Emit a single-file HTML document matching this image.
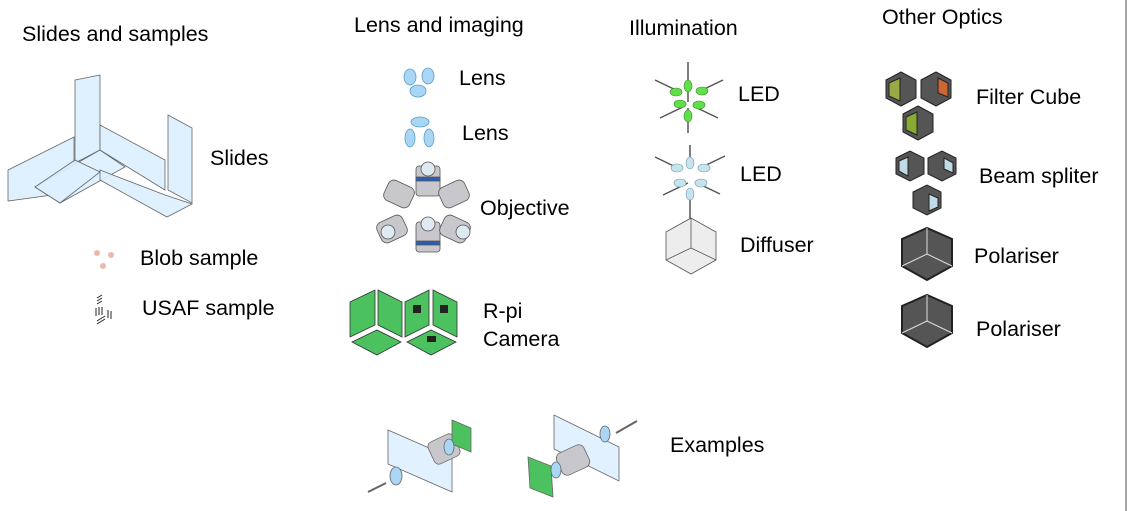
<!DOCTYPE html>
<html><head><meta charset="utf-8"><style>
html,body{margin:0;padding:0;background:#fff}
svg{display:block}
text{font-family:"Liberation Sans","DejaVu Sans",sans-serif;font-size:21.5px;fill:#000}
</style></head><body>
<svg width="1128" height="511" viewBox="0 0 1128 511" xmlns="http://www.w3.org/2000/svg">
<line x1="1126" y1="0" x2="1126" y2="511" stroke="#888" stroke-width="1.5"/>
<text x="22" y="41">Slides and samples</text>
<text x="354" y="32">Lens and imaging</text>
<text x="629" y="35">Illumination</text>
<text x="882" y="24">Other Optics</text>
<text x="210" y="165">Slides</text>
<text x="140" y="265">Blob sample</text>
<text x="142" y="315">USAF sample</text>
<text x="459" y="85">Lens</text>
<text x="462" y="140">Lens</text>
<text x="480" y="215">Objective</text>
<text x="483" y="318">R-pi</text>
<text x="483" y="346">Camera</text>
<text x="738" y="101">LED</text>
<text x="740" y="181">LED</text>
<text x="740" y="252">Diffuser</text>
<text x="976" y="104">Filter Cube</text>
<text x="979" y="183">Beam spliter</text>
<text x="974" y="263">Polariser</text>
<text x="976" y="336">Polariser</text>
<text x="670" y="452">Examples</text>

<!-- slides -->
<g fill="#dcefff" stroke="#666" stroke-width="0.8" fill-opacity="0.9">
<polygon points="8,170 74,137 74,192 8,201"/>
<polygon points="75,80 100,75 100,150 75,163"/>
<polygon points="35,187 100,150 125,167 60,203"/>
<polygon points="100,150 100,125 165,160 165,190"/>
<polygon points="100,170 165,195 192,204 167,217 100,180"/>
<polygon points="168,115 192,128 192,203 168,190"/>
<polygon points="35,187 60,203 100,172 75,160"/>
</g>
<!-- blob -->
<g fill="#e29c88" opacity="0.7"><circle cx="97" cy="253" r="3"/><circle cx="111" cy="255" r="3"/><circle cx="103" cy="266" r="3"/></g>
<!-- usaf -->
<g stroke="#222" stroke-width="1"><path d="M97,298 l5,-3 M97,301 l5,-3 M97,304 l5,-3 M96,308 l0,8 M99,307 l0,8 M102,307 l0,8 M108,310 l0,8 M111,311 l0,8 M105,316 l-8,5 M105,319 l-8,5"/></g>

<!-- lenses -->
<g fill="#a9d6f5" stroke="#5a9ec9" stroke-width="0.8">
<ellipse cx="410" cy="77" rx="6" ry="8"/><ellipse cx="428" cy="76" rx="6" ry="8"/><ellipse cx="418" cy="91" rx="8" ry="6"/>
<ellipse cx="420" cy="122" rx="9" ry="5"/><ellipse cx="410" cy="138" rx="5" ry="9"/><ellipse cx="429" cy="138" rx="5" ry="9"/>
</g>
<!-- objectives -->
<g stroke="#555" stroke-width="0.8">
<rect x="416" y="166" width="24" height="30" rx="3" fill="#c8c8cc"/><rect x="416" y="177" width="24" height="4" fill="#2a5db0"/>
<rect x="416" y="222" width="24" height="30" rx="3" fill="#c8c8cc"/><rect x="416" y="241" width="24" height="4" fill="#2a5db0"/>
<rect x="385" y="183" width="28" height="22" rx="6" fill="#c8c8cc" transform="rotate(25 399 194)"/>
<rect x="440" y="183" width="28" height="22" rx="6" fill="#c8c8cc" transform="rotate(-25 454 194)"/>
<rect x="378" y="218" width="28" height="22" rx="6" fill="#c8c8cc" transform="rotate(-25 392 229)"/>
<rect x="441" y="218" width="28" height="22" rx="6" fill="#c8c8cc" transform="rotate(25 455 229)"/>
<circle cx="428" cy="169" r="7" fill="#dfe9f2"/><circle cx="428" cy="224" r="7" fill="#dfe9f2"/>
<circle cx="388" cy="232" r="7" fill="#dfe9f2"/><circle cx="463" cy="232" r="7" fill="#dfe9f2"/>
</g>
<!-- rpi camera -->
<g fill="#4cc15f" stroke="#333" stroke-width="0.8">
<polygon points="350,302 375,290 375,325 350,337"/><polygon points="378,290 402,302 402,337 378,325"/>
<polygon points="352,342 377,330 401,342 377,355"/>
<polygon points="405,302 429,290 429,325 405,337"/><polygon points="433,290 457,302 457,337 433,325"/>
<polygon points="407,342 431,330 456,342 431,355"/>
</g>
<g fill="#222"><rect x="413" y="305" width="8" height="8"/><rect x="440" y="305" width="8" height="8"/><rect x="427" y="336" width="9" height="6"/></g>

<!-- LEDs green -->
<g stroke="#555" stroke-width="1.5"><path d="M688,62v40 M655,80l25,12 M723,80l-25,12 M660,118l25,-12 M718,118l-25,-12 M688,108v25"/></g>
<g fill="#5fe04a" stroke="#3a8a2a" stroke-width="0.6"><ellipse cx="688" cy="86" rx="4" ry="6"/><ellipse cx="676" cy="92" rx="6" ry="4"/><ellipse cx="702" cy="91" rx="6" ry="4"/><ellipse cx="680" cy="104" rx="6" ry="4"/><ellipse cx="699" cy="105" rx="6" ry="4"/><ellipse cx="688" cy="116" rx="4" ry="6"/></g>
<!-- LEDs blue -->
<g stroke="#555" stroke-width="1.5"><path d="M690,145v20 M655,157l25,12 M725,156l-25,12 M663,195l25,-12 M720,194l-25,-12 M690,200v22"/></g>
<g fill="#c7e4ee" stroke="#6a9aa8" stroke-width="0.6"><ellipse cx="690" cy="163" rx="4" ry="6"/><ellipse cx="677" cy="168" rx="6" ry="4"/><ellipse cx="704" cy="168" rx="6" ry="4"/><ellipse cx="680" cy="183" rx="6" ry="4"/><ellipse cx="701" cy="183" rx="6" ry="4"/><ellipse cx="690" cy="194" rx="4" ry="6"/></g>
<!-- diffuser -->
<g fill="#ededed" stroke="#555" stroke-width="0.8"><polygon points="691,218 716,232 716,260 691,274 666,260 666,232"/><path d="M691,218v30l-25,12 M691,248l25,12" fill="none"/></g>

<!-- filter cubes -->
<g stroke="#222" stroke-width="1">
<polygon points="886,80 901,72 916,80 916,98 901,106 886,98" fill="#555"/>
<polygon points="921,80 936,72 951,80 951,98 936,106 921,98" fill="#555"/>
<polygon points="903,114 918,106 933,114 933,132 918,140 903,132" fill="#555"/>
<polygon points="889,83 900,78 900,101 889,96" fill="#9a4"/><polygon points="938,78 948,83 948,97 938,93" fill="#c63"/><polygon points="906,117 917,112 917,135 906,130" fill="#8a3"/>
<polygon points="896,158 910,151 924,158 924,174 910,181 896,174" fill="#555"/>
<polygon points="928,158 942,151 956,158 956,174 942,181 928,174" fill="#555"/>
<polygon points="913,192 927,185 941,192 941,208 927,215 913,208" fill="#555"/>
<polygon points="899,161 908,157 908,176 899,171" fill="#bfdbe8"/><polygon points="944,158 953,163 953,173 944,169" fill="#bfdbe8"/><polygon points="929,194 938,198 938,207 929,211" fill="#bfdbe8"/>
<polygon points="902,239 927,228 952,239 952,266 927,280 902,266" fill="#555" stroke-width="2"/>
<polygon points="902,306 927,295 952,306 952,333 927,347 902,333" fill="#555" stroke-width="2"/>
<path d="M927,228v26l-25,12 M927,254l25,12 M927,295v26l-25,12 M927,321l25,12" stroke="#ddd" fill="none"/>
</g>

<!-- examples -->
<g stroke="#666" stroke-width="0.8">
<polygon points="388,430 452,458 452,492 388,464" fill="#dcefff" fill-opacity="0.85"/>
<rect x="430" y="437" width="28" height="24" rx="5" fill="#c8c8cc" transform="rotate(-25 444 449)"/>
<polygon points="452,420 471,428 471,452 452,444" fill="#4cc15f"/>
<ellipse cx="449" cy="447" rx="5" ry="8" fill="#a9d6f5"/><ellipse cx="396" cy="476" rx="6" ry="9" fill="#a9d6f5"/>
<path d="M368,492l18,-9" stroke-width="2"/>
<polygon points="554,415 619,447 619,481 554,449" fill="#dcefff" fill-opacity="0.85"/>
<rect x="558" y="448" width="30" height="24" rx="6" fill="#c8c8cc" transform="rotate(-25 573 460)"/>
<polygon points="528,457 551,466 553,497 530,488" fill="#4cc15f"/>
<ellipse cx="556" cy="470" rx="5" ry="8" fill="#a9d6f5"/><ellipse cx="605" cy="434" rx="5" ry="8" fill="#a9d6f5"/>
<path d="M616,433l21,-12" stroke-width="2"/>
</g>
</svg>
</body></html>
